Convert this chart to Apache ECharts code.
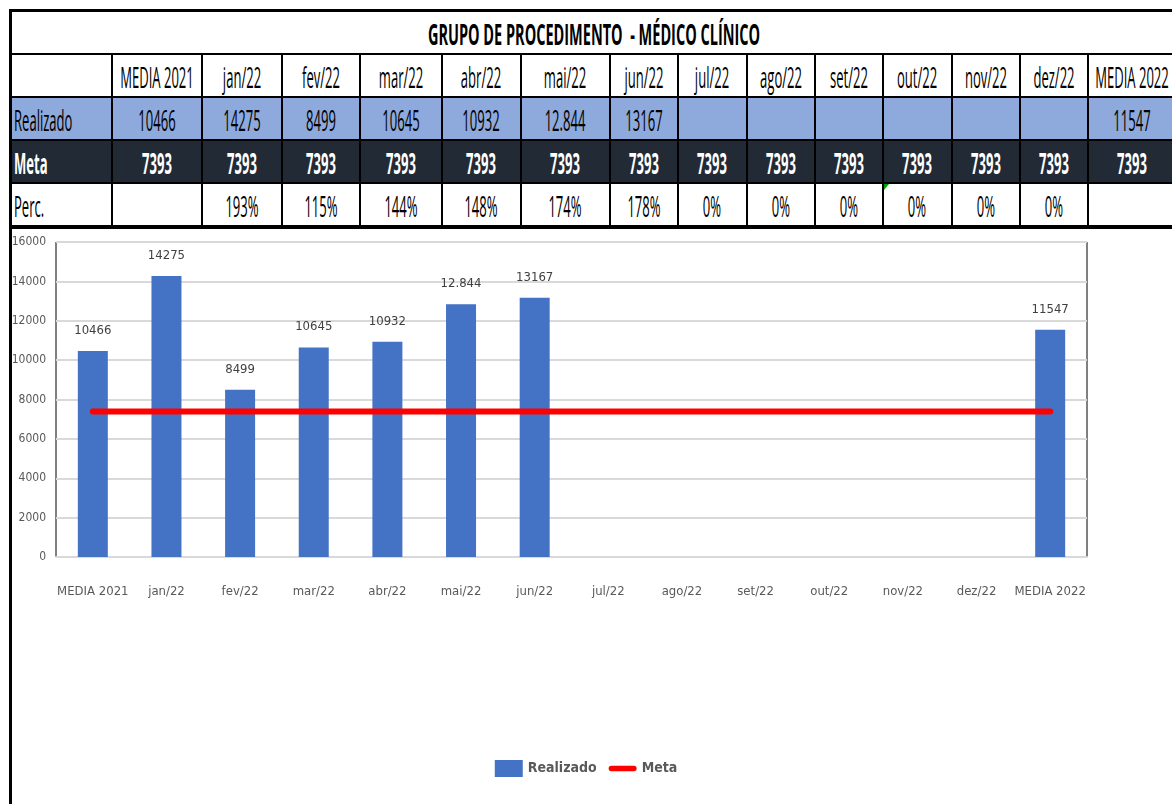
<!DOCTYPE html>
<html>
<head>
<meta charset="utf-8">
<script src="https://cdn.jsdelivr.net/npm/echarts@6/dist/echarts.min.js"></script>
<style>
  body { margin: 0; background: #fff; width: 1172px; height: 804px; overflow: hidden; position: relative;
         font-family: "Open Sans", sans-serif; }
  #tbl { position: absolute; left: 9px; top: 9px; border-collapse: collapse; table-layout: fixed; width: 1166px; }
  #tbl td { border: 2px solid #000; height: 41px; padding: 0; color: #000; position: relative; overflow: hidden; }
  #tbl td .t { position: absolute; left: 50%; top: 50%; white-space: pre; font-size: 29px; line-height: 1;
               transform: translate(-50%, -50%) scaleX(0.45); }
  #tbl td.first .t { left: 2px; transform-origin: left center; transform: translateY(-50%) scaleX(0.45); }
  #tbl tr.title td { border-top: 3px solid #000; }
  #tbl tr.title td .t { font-weight: bold; transform: translate(-50%, -50%) scaleX(0.5); }
  #tbl td.first { border-left: 3px solid #000; }
  #tbl tr.real td { background: #8EA9DB; }
  #tbl tr.meta td { background: #222A35; color: #fff; font-weight: bold; }
  #tbl tr.perc td { border-bottom: 4px solid #000; }
  #frame { position: absolute; left: 9px; top: 229px; width: 3px; height: 575px; background: #000; }
  #main { position: absolute; left: 0; top: 229px; width: 1172px; height: 575px; }
  .flag { position: absolute; left: 0; top: 0; width: 0; height: 0;
          border-top: 6px solid #00a000; border-right: 5px solid transparent; }
</style>
</head>
<body>
<table id="tbl"></table>
<div id="main"></div>
<div id="frame"></div>
<script>
const titulo = "GRUPO DE PROCEDIMENTO  - MÉDICO CLÍNICO";
const categorias = ["MEDIA 2021", "jan/22", "fev/22", "mar/22", "abr/22", "mai/22", "jun/22",
                    "jul/22", "ago/22", "set/22", "out/22", "nov/22", "dez/22", "MEDIA 2022"];
const realizado = [10466, 14275, 8499, 10645, 10932, 12844, 13167, null, null, null, null, null, null, 11547];
const realizadoTexto = ["10466", "14275", "8499", "10645", "10932", "12.844", "13167", "", "", "", "", "", "", "11547"];
const meta = [7393, 7393, 7393, 7393, 7393, 7393, 7393, 7393, 7393, 7393, 7393, 7393, 7393, 7393];
const perc = ["", "193%", "115%", "144%", "148%", "174%", "178%", "0%", "0%", "0%", "0%", "0%", "0%", ""];
const larguras = [101, 90, 80, 78, 82, 79, 89, 68, 69, 68, 68, 69, 68, 68, 89];

// tabela
const cel = (txt, cls) => `<td${cls ? ` class="${cls}"` : ""}><span class="t">${txt}</span></td>`;
let html = "<colgroup>" + larguras.map(w => `<col style="width:${w}px">`).join("") + "</colgroup>";
html += `<tr class="title"><td class="first" colspan="${larguras.length}">` +
        `<span class="t" style="left:50%;transform-origin:center">${titulo}</span></td></tr>`;
html += "<tr>" + cel("", "first") + categorias.map(c => cel(c)).join("") + "</tr>";
html += `<tr class="real">` + cel("Realizado", "first") + realizadoTexto.map(v => cel(v)).join("") + "</tr>";
html += `<tr class="meta">` + cel("Meta", "first") + meta.map(v => cel(v)).join("") + "</tr>";
html += `<tr class="perc">` + cel("Perc.", "first") +
        perc.map((v, i) => `<td>${categorias[i] === "out/22" ? '<div class="flag"></div>' : ""}<span class="t">${v}</span></td>`).join("") + "</tr>";
document.getElementById("tbl").innerHTML = html;

// grafico
const fonte = '"DejaVu Sans Condensed", sans-serif';
var myChart = echarts.init(document.getElementById("main"));
var option = {
  animation: false,
  textStyle: { fontFamily: fonte },
  grid: { left: 56, right: 85, top: 13, bottom: 247, show: true, borderColor: "#000", borderWidth: 1 },
  legend: {
    top: 526,
    left: "center",
    itemWidth: 28,
    itemHeight: 17,
    itemGap: 12,
    textStyle: { color: "#595959", fontSize: 14, fontWeight: "bold", fontFamily: fonte },
    data: [
      { name: "Realizado", icon: "rect" },
      { name: "Meta", icon: "path://M0,0 M31,17 M3,5.5 L28,5.5 A3,3 0 0 1 28,11.5 L3,11.5 A3,3 0 0 1 3,5.5 Z" }
    ]
  },
  xAxis: {
    type: "category",
    data: categorias,
    axisTick: { show: false },
    axisLine: { lineStyle: { color: "#d9d9d9", width: 2 } },
    axisLabel: { interval: 0, margin: 28, color: "#595959", fontSize: 13, fontFamily: fonte }
  },
  yAxis: {
    type: "value",
    min: 0,
    max: 16000,
    interval: 2000,
    axisLine: { show: false },
    axisLabel: { color: "#595959", fontSize: 12, margin: 10, fontFamily: fonte, formatter: v => String(v) },
    splitLine: { lineStyle: { color: "#d9d9d9", width: 2 } }
  },
  series: [
    {
      name: "Realizado",
      type: "bar",
      data: realizado,
      barWidth: 30,
      itemStyle: { color: "#4472C4" },
      label: {
        show: true,
        position: "top",
        distance: 14,
        color: "#404040",
        fontSize: 13,
        fontFamily: fonte,
        formatter: p => realizadoTexto[p.dataIndex]
      }
    },
    {
      name: "Meta",
      type: "line",
      data: meta,
      symbol: "none",
      z: 5,
      itemStyle: { color: "#FF0000" },
      lineStyle: { color: "#FF0000", width: 6, cap: "round" }
    }
  ]
};
myChart.setOption(option);
</script>
</body>
</html>
